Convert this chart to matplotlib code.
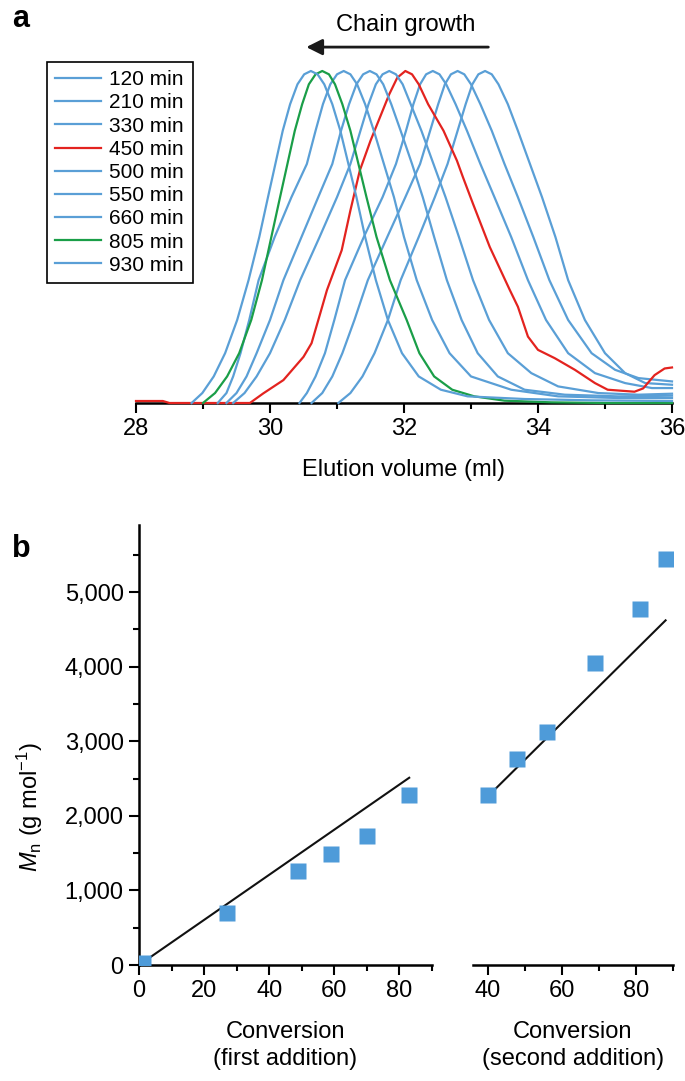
import matplotlib
matplotlib.use('Agg')
import matplotlib.pyplot as plt
from matplotlib.ticker import MultipleLocator, FuncFormatter

plt.rcParams['font.family'] = ['Liberation Sans', 'DejaVu Sans']
plt.rcParams['mathtext.fontset'] = 'custom'
plt.rcParams['mathtext.rm'] = 'Liberation Sans'
plt.rcParams['mathtext.it'] = 'Liberation Sans:italic'

BLUE = '#5a9fd6'
RED = '#e3231f'
GREEN = '#1a9e48'
SQ = '#4e9bd9'

# ---- panel a: SEC traces (elution volume in ml, normalised signal) ----
labels = ['120 min', '210 min', '330 min', '450 min', '500 min',
          '550 min', '660 min', '805 min', '930 min']

v120 = [31.02, 31.2, 31.38, 31.56, 31.76, 31.95, 32.22, 32.46, 32.65, 32.8, 32.92, 33.02, 33.11, 33.21,
        33.31, 33.41, 33.55, 33.7, 33.88, 34.06, 34.26, 34.45, 34.7, 35.0, 35.3, 35.6, 36.0]
s120 = [0, .03, .08, .15, .25, .37, .5, .62, .72, .82, .9, .96, .99, 1,
        .99, .96, .9, .82, .72, .62, .5, .37, .25, .15, .09, .06, .055]

v210 = [30.62, 30.78, 30.93, 31.08, 31.26, 31.46, 31.75, 32.02, 32.24, 32.39, 32.51, 32.61, 32.7, 32.8,
        32.9, 33.0, 33.14, 33.31, 33.5, 33.7, 33.93, 34.17, 34.45, 34.8, 35.15, 35.5, 36.0]
s210 = [0, .03, .08, .15, .25, .37, .5, .62, .72, .82, .9, .96, .99, 1,
        .99, .96, .9, .82, .72, .62, .5, .37, .25, .15, .1, .075, .065]

v330 = [30.44, 30.55, 30.68, 30.82, 30.96, 31.12, 31.4, 31.68, 31.88, 32.03, 32.14, 32.24, 32.33, 32.43,
        32.53, 32.63, 32.77, 32.94, 33.14, 33.35, 33.6, 33.85, 34.12, 34.45, 34.85, 35.3, 35.7, 36.0]
s330 = [0, .03, .08, .15, .25, .37, .5, .62, .72, .82, .9, .96, .99, 1,
        .99, .96, .9, .82, .72, .62, .5, .37, .25, .15, .09, .06, .045, .045]

v450 = [28.0, 28.4, 28.5, 29.7, 29.9, 30.2, 30.5, 30.62, 30.75, 30.85, 31.07, 31.2, 31.34, 31.5, 31.64,
        31.78, 31.9, 32.02, 32.12, 32.22, 32.36, 32.59, 32.79, 32.88, 33.03, 33.28, 33.58, 33.7, 33.85,
        34.0, 34.25, 34.55, 34.85, 35.04, 35.44, 35.57, 35.74, 35.89, 36.0]
s450 = [.006, .006, 0, 0, .029, .069, .139, .18, .27, .34, .46, .58, .7, .79, .86,
        .93, .98, 1.0, .99, .96, .9, .82, .73, .68, .6, .47, .34, .29, .2,
        .16, .135, .1, .06, .04, .034, .044, .084, .104, .107]

v500 = [29.45, 29.62, 29.8, 30.0, 30.22, 30.45, 30.74, 31.0, 31.2, 31.35, 31.47, 31.58, 31.68, 31.78,
        31.88, 31.98, 32.1, 32.26, 32.44, 32.62, 32.82, 33.03, 33.27, 33.55, 33.9, 34.3, 34.9, 35.5, 36.0]
s500 = [0, .03, .08, .15, .25, .37, .5, .62, .72, .82, .9, .96, .99, 1,
        .99, .96, .9, .82, .72, .62, .5, .37, .25, .15, .09, .05, .03, .025, .028]

v550 = [29.35, 29.5, 29.65, 29.8, 30.0, 30.2, 30.47, 30.72, 30.93, 31.06, 31.18, 31.29, 31.39, 31.49,
        31.59, 31.69, 31.81, 31.95, 32.12, 32.28, 32.45, 32.64, 32.86, 33.1, 33.4, 33.8, 34.4, 35.2, 36.0]
s550 = [0, .03, .08, .15, .25, .37, .5, .62, .72, .82, .9, .96, .99, 1,
        .99, .96, .9, .82, .72, .62, .5, .37, .25, .15, .08, .04, .025, .02, .022]

v660 = [29.22, 29.35, 29.45, 29.56, 29.69, 29.83, 30.07, 30.32, 30.55, 30.68, 30.79, 30.9, 31.0, 31.1,
        31.2, 31.3, 31.42, 31.55, 31.7, 31.85, 32.0, 32.19, 32.42, 32.68, 33.0, 33.6, 34.3, 35.2, 36.0]
s660 = [0, .03, .08, .15, .25, .37, .5, .62, .72, .82, .9, .96, .99, 1,
        .99, .96, .9, .82, .72, .62, .5, .37, .25, .15, .08, .04, .02, .015, .015]

v805 = [29.0, 29.18, 29.36, 29.54, 29.72, 29.88, 30.02, 30.15, 30.26, 30.37, 30.48, 30.58, 30.68, 30.78,
        30.88, 30.97, 31.08, 31.2, 31.32, 31.44, 31.59, 31.79, 32.04, 32.23, 32.45, 32.72, 33.05, 33.5,
        34.2, 35.0, 36.0]
s805 = [0, .03, .08, .15, .25, .37, .5, .62, .72, .82, .9, .96, .99, 1,
        .99, .96, .9, .82, .72, .62, .5, .37, .25, .15, .08, .04, .02, .007,
        .002, 0, 0]

v930 = [28.83, 28.99, 29.16, 29.33, 29.51, 29.68, 29.84, 29.97, 30.08, 30.19, 30.3, 30.41, 30.51, 30.61,
        30.71, 30.81, 30.93, 31.05, 31.17, 31.29, 31.42, 31.58, 31.76, 31.97, 32.22, 32.55, 32.95, 33.8,
        34.8, 36.0]
s930 = [0, .03, .08, .15, .25, .37, .5, .62, .72, .82, .9, .96, .99, 1,
        .99, .96, .9, .82, .72, .62, .5, .37, .25, .15, .08, .04, .02, .012,
        .008, .006]

traces = [(v120, s120), (v210, s210), (v330, s330), (v450, s450), (v500, s500),
          (v550, s550), (v660, s660), (v805, s805), (v930, s930)]
trace_colors = [BLUE, BLUE, BLUE, RED, BLUE, BLUE, BLUE, GREEN, BLUE]

# ---- panel b: Mn vs conversion ----
conv1 = [1.2, 26.9, 48.8, 58.9, 69.9, 82.9]
mn1 = [30, 700, 1258, 1489, 1733, 2276]
fit1_x = [1, 83]
fit1_y = [30, 2510]

conv2 = [40, 48, 56, 69, 81, 88]
mn2 = [2276, 2764, 3124, 4044, 4778, 5444]
fit2_x = [40, 88]
fit2_y = [2260, 4620]

W, H = 685, 1081
FS = 17
fig = plt.figure(figsize=(W / 100, H / 100), dpi=100)


def box(l, t, r, b):
    return [l / W, 1 - b / H, (r - l) / W, (b - t) / H]


# panel a
ax = fig.add_axes(box(136, 403 - 1.2 * 332, 672, 403))
for (v, s), c, lab in zip(traces, trace_colors, labels):
    ax.plot(v, s, color=c, lw=1.6, label=lab, zorder=3, clip_on=False,
            solid_joinstyle='round')
ax.set_xlim(28, 36)
ax.set_ylim(0, 1.2)
for sp in ['top', 'right', 'left']:
    ax.spines[sp].set_visible(False)
ax.spines['bottom'].set_linewidth(1.8)
ax.set_yticks([])
ax.xaxis.set_major_locator(MultipleLocator(2))
ax.xaxis.set_minor_locator(MultipleLocator(1))
ax.tick_params(axis='x', which='major', length=7, width=1.5, labelsize=FS, pad=4)
ax.tick_params(axis='x', which='minor', length=4, width=1.5)
ax.set_xlabel('Elution volume (ml)', fontsize=FS)
ax.xaxis.set_label_coords(0.5, -0.14)
ax.annotate('', xy=(30.5, 1.072), xytext=(33.3, 1.072),
            arrowprops=dict(arrowstyle='-|>', lw=2, color='#1a1a1a', mutation_scale=24),
            annotation_clip=False)
ax.text(32.02, 1.14, 'Chain growth', ha='center', va='center', fontsize=FS)

leg = ax.legend(loc='upper left', bbox_to_anchor=(47 / W, 1 - 62 / H),
                bbox_transform=fig.transFigure, borderaxespad=0, fontsize=15,
                handlelength=2.2, handletextpad=0.4, labelspacing=0.2,
                fancybox=False, framealpha=1, edgecolor='black', borderpad=0.4)
leg.get_frame().set_linewidth(1.2)

fig.text(12 / W, 1 - 19 / H, 'a', fontsize=22, fontweight='bold', va='center', ha='left')
fig.text(12 / W, 1 - 549 / H, 'b', fontsize=22, fontweight='bold', va='center', ha='left')

# panel b
ymax = 5900
bottom_px = 965
top_px = bottom_px - ymax * 0.0746
ax1 = fig.add_axes(box(139, top_px, 432, bottom_px))
ax2 = fig.add_axes(box(473, top_px, 673, bottom_px))

ax1.plot(fit1_x, fit1_y, color='#111111', lw=1.5, zorder=2)
ax1.plot(conv1, mn1, 's', color=SQ, ms=12, mec='none', zorder=3)
ax2.plot(fit2_x, fit2_y, color='#111111', lw=1.5, zorder=2)
ax2.plot(conv2, mn2, 's', color=SQ, ms=12, mec='none', zorder=3)

ax1.set_xlim(0, 90)
ax2.set_xlim(36, 90)
for a in (ax1, ax2):
    a.set_ylim(0, ymax)
    a.spines['top'].set_visible(False)
    a.spines['right'].set_visible(False)
    a.spines['bottom'].set_linewidth(1.8)
    a.spines['left'].set_linewidth(1.8)
    a.xaxis.set_major_locator(MultipleLocator(20))
    a.xaxis.set_minor_locator(MultipleLocator(10))
    a.tick_params(which='major', length=7, width=1.5, labelsize=FS, pad=4)
    a.tick_params(which='minor', length=4, width=1.5)
ax2.spines['left'].set_visible(False)
ax2.set_yticks([])
ax2.tick_params(axis='y', which='both', left=False)
ax1.yaxis.set_major_locator(MultipleLocator(1000))
ax1.yaxis.set_minor_locator(MultipleLocator(500))
ax1.yaxis.set_major_formatter(FuncFormatter(lambda v, p: f'{int(v):,}'))

ax1.set_ylabel('$M_\\mathrm{n}$ (g mol$^{-1}$)', fontsize=FS)
ax1.yaxis.set_label_coords(-0.32, 0.36)
ax1.set_xlabel('Conversion\n(first addition)', fontsize=FS, linespacing=1.25)
ax1.xaxis.set_label_coords(0.5, -0.128)
ax2.set_xlabel('Conversion\n(second addition)', fontsize=FS, linespacing=1.25)
ax2.xaxis.set_label_coords(0.5, -0.128)

fig.savefig('out.png', dpi=100)
